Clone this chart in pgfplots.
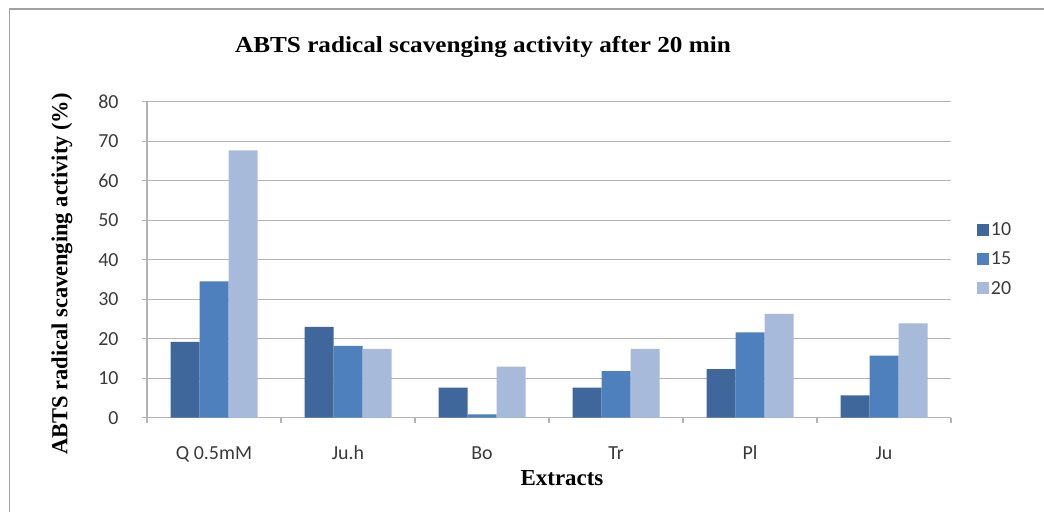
\documentclass[border=0pt]{standalone}
\usepackage{fontspec}
\setmainfont{Liberation Serif}
\newfontfamily\carlito{Carlito}
\usepackage{pgfplots}
\pgfplotsset{compat=1.18}
\definecolor{cA}{HTML}{3F679C}
\definecolor{cB}{HTML}{4E80BD}
\definecolor{cC}{HTML}{A8BADA}
\definecolor{gridc}{HTML}{B4B4B4}
\definecolor{txt}{HTML}{3A3A3A}
\begin{document}
\begin{tikzpicture}[x=1bp,y=1bp]
\path[use as bounding box] (0,0) rectangle (1044,512);
\draw[color=gridc!90!black, line width=1.5bp] (9.5,0) -- (9.5,503) -- (1044,503);
\begin{axis}[
  at={(147bp,94.3bp)}, anchor=south west,
  scale only axis, width=804bp, height=316bp,
  ymin=0, ymax=80, ytick={0,10,...,80},
  xmin=-0.5, xmax=5.5,
  xtick={0,...,5},
  xticklabels={Q 0.5mM, Ju.h, Bo, Tr, Pl, Ju},
  minor xtick={-0.5,0.5,...,5.5},
  major x tick style={draw=none},
  minor x tick style={draw=gridc, line width=1.2bp},
  minor tick length=5bp,
  major tick length=5bp,
  tick align=outside,
  ytick style={draw=gridc, line width=1.2bp},
  axis x line*=bottom, axis y line*=left,
  axis line style={draw=gridc, line width=1.2bp},
  ymajorgrids, grid style={draw=gridc, line width=1.2bp},
  ybar=0pt, bar width=29bp,
  /pgf/number format/assume math mode=true,
  ticklabel style={font=\carlito\fontsize{20}{20}\selectfont, text=txt},
  yticklabel style={xshift=-20bp},
  xticklabel style={anchor=base, yshift=-37bp},
  legend style={draw=none, fill=none, at={(1.032,0.502)}, anchor=west,
    font=\carlito\fontsize{20}{20}\selectfont, text=txt, inner sep=0pt,
    row sep=11bp, legend cell align=left},
  legend image code/.code={\fill[#1,draw=none] (0bp,-6bp) rectangle (12bp,6bp);},
]
\addplot[fill=cA, draw=none] coordinates {(0,19.2) (1,23.0) (2,7.6) (3,7.6) (4,12.3) (5,5.65)};
\addplot[fill=cB, draw=none] coordinates {(0,34.5) (1,18.2) (2,0.85) (3,11.8) (4,21.6) (5,15.7)};
\addplot[fill=cC, draw=none] coordinates {(0,67.7) (1,17.4) (2,12.9) (3,17.4) (4,26.3) (5,23.9)};
\legend{10,15,20}
\end{axis}
\node[font=\bfseries\fontsize{23}{23}\selectfont] at (483,465) {\scalebox{1.1}[1]{ABTS radical scavenging activity after 20 min}};
\node[font=\bfseries\fontsize{23}{23}\selectfont, rotate=90] at (62,238) {\scalebox{0.98}[1]{ABTS radical scavenging activity (\%)}};
\node[font=\bfseries\fontsize{23}{23}\selectfont] at (562,34) {Extracts};
\end{tikzpicture}
\end{document}
